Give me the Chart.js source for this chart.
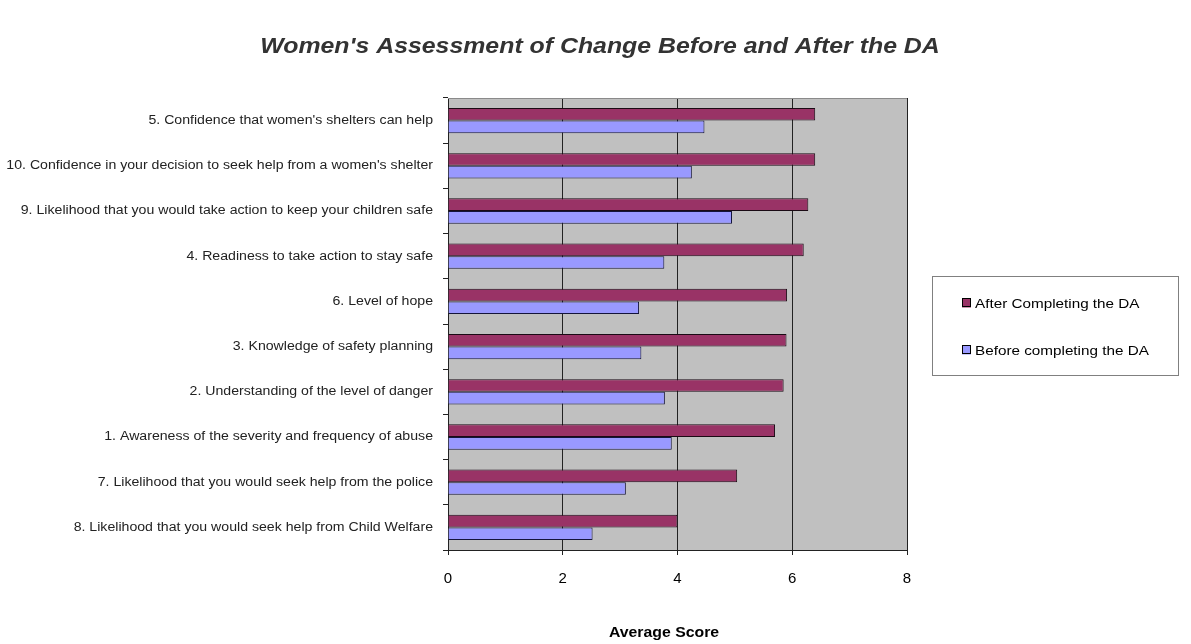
<!DOCTYPE html>
<html>
<head>
<meta charset="utf-8">
<script src="https://cdn.jsdelivr.net/npm/chart.js@4"></script>
<style>
  body { margin: 0; background: #fff; }
  #wrap { width: 1191px; height: 644px; }
</style>
</head>
<body>
<div id="wrap"><canvas id="chart" width="1191" height="644"></canvas></div>
<script>
const chartTitle = "Women's Assessment of Change Before and After the DA";
const axisTitle = 'Average Score';

const categories = [
    '5. Confidence that women\'s shelters can help',
    '10. Confidence in your decision to seek help from a women\'s shelter',
    '9. Likelihood that you would take action to keep your children safe',
    '4. Readiness to take action to stay safe',
    '6. Level of hope',
    '3. Knowledge of safety planning',
    '2. Understanding of the level of danger',
    '1. Awareness of the severity and frequency of abuse',
    '7. Likelihood that you would seek help from the police',
    '8. Likelihood that you would seek help from Child Welfare'
];
const seriesNames = ['After Completing the DA', 'Before completing the DA'];
const afterScores = [6.40, 6.40, 6.28, 6.20, 5.91, 5.90, 5.85, 5.70, 5.04, 4.00];
const beforeScores = [4.47, 4.25, 4.95, 3.77, 3.33, 3.37, 3.78, 3.90, 3.10, 2.52];
const xTicks = [0, 2, 4, 6, 8];

const FONT = "'Liberation Sans', Arial, sans-serif";
const STRETCH = 1.13; // the source picture's text is a bit wide
Chart.defaults.font.family = FONT;

// text drawn a little stretched sideways
function wideText(ctx, text, x, y, align, font, color) {
    ctx.save();
    ctx.font = font;
    ctx.fillStyle = color;
    ctx.textAlign = align;
    ctx.textBaseline = 'middle';
    ctx.translate(x, y);
    ctx.scale(STRETCH, 1);
    ctx.fillText(text, 0, 0);
    ctx.restore();
}

// grey plot area, title, category labels and the boxed legend
const decor = {
    id: 'decor',
    beforeDraw(chart) {
        const { ctx, chartArea: a } = chart;
        ctx.save();
        ctx.fillStyle = '#fff';
        ctx.fillRect(0, 0, chart.width, chart.height);
        ctx.fillStyle = '#c0c0c0';
        ctx.fillRect(a.left, a.top, a.right - a.left, a.bottom - a.top);
        ctx.restore();
    },
    afterDraw(chart) {
        const { ctx, chartArea: a } = chart;
        const yScale = chart.scales.y;
        ctx.save();
        ctx.strokeStyle = '#8a8a8a';
        ctx.lineWidth = 1;
        ctx.beginPath();
        ctx.moveTo(a.left, a.top + 0.5);
        ctx.lineTo(a.right, a.top + 0.5);
        ctx.stroke();
        ctx.restore();

        wideText(ctx, chartTitle, 600, 47, 'center', 'italic bold 22px ' + FONT, '#333');

        chart.data.labels.forEach((lab, i) => {
            wideText(ctx, lab, 433, yScale.getPixelForTick(i), 'right', '12.5px ' + FONT, '#222');
        });

        wideText(ctx, axisTitle, 664, 633, 'center', 'bold 14px ' + FONT, '#000');

        // legend
        ctx.save();
        ctx.fillStyle = '#fff';
        ctx.fillRect(932, 276, 246, 99);
        ctx.strokeStyle = '#808080';
        ctx.strokeRect(932.5, 276.5, 246, 99);
        chart.data.datasets.forEach((ds, i) => {
            const y = 303 + i * 47;
            ctx.fillStyle = ds.backgroundColor;
            ctx.fillRect(962, y - 4.5, 9, 9);
            ctx.strokeStyle = '#000';
            ctx.strokeRect(962.5, y - 4.5, 8, 8);
            wideText(ctx, ds.label, 975, y + 1, 'left', '13.5px ' + FONT, '#000');
        });
        ctx.restore();
    }
};

new Chart(document.getElementById('chart'), {
    type: 'bar',
    data: {
        labels: categories,
        datasets: [
            {
                label: seriesNames[0],
                data: afterScores,
                backgroundColor: '#993366',
                borderColor: '#1a0a14',
                borderWidth: 1
            },
            {
                label: seriesNames[1],
                data: beforeScores,
                backgroundColor: '#9999ff',
                borderColor: '#14143a',
                borderWidth: 1
            }
        ]
    },
    options: {
        indexAxis: 'y',
        responsive: false,
        animation: false,
        layout: { padding: { top: 98, right: 284, bottom: 0, left: 0 } },
        datasets: {
            bar: { categoryPercentage: 0.56, barPercentage: 1 }
        },
        plugins: {
            legend: { display: false },
            title: { display: false },
            tooltip: { enabled: false }
        },
        scales: {
            x: {
                min: xTicks[0],
                max: xTicks[xTicks.length - 1],
                afterFit: (scale) => { scale.height = 94; },
                afterBuildTicks: (scale) => {
                    scale.ticks = xTicks.map(v => ({ value: v }));
                },
                ticks: { color: '#000', font: { size: 15 }, padding: 15 },
                grid: { color: '#222', lineWidth: 1, tickLength: 5 },
                border: { color: '#222' }
            },
            y: {
                afterFit: (scale) => { scale.width = 448; },
                ticks: { display: false },
                grid: { drawOnChartArea: false, offset: true, color: '#222', tickLength: 5 },
                border: { color: '#222' }
            }
        }
    },
    plugins: [decor]
});
</script>
</body>
</html>
